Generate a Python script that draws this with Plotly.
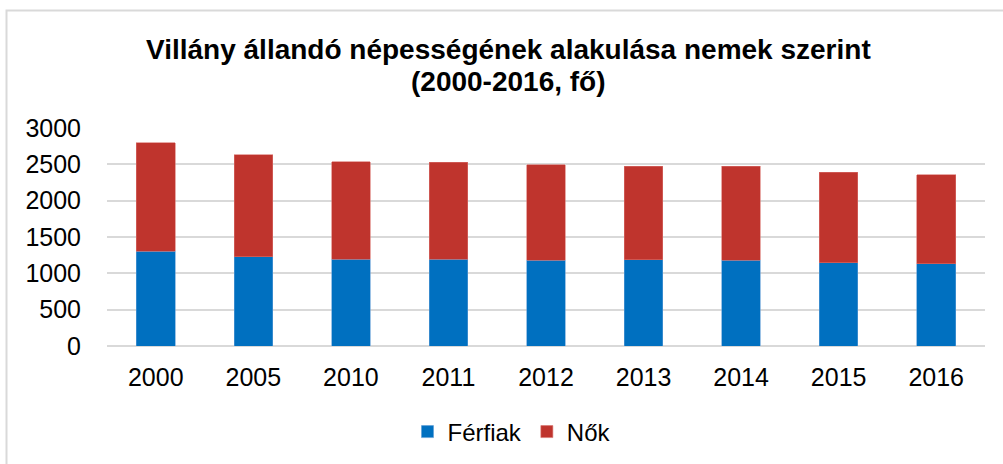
import plotly.graph_objects as go

years = ["2000", "2005", "2010", "2011", "2012", "2013", "2014", "2015", "2016"]
ferfiak = [1303, 1229, 1193, 1193, 1179, 1186, 1179, 1146, 1132]
nok = [1491, 1404, 1343, 1334, 1316, 1291, 1293, 1242, 1225]
yticks = [0, 500, 1000, 1500, 2000, 2500, 3000]

FONT = "Liberation Sans, Arial, sans-serif"

fig = go.Figure()
fig.add_trace(go.Bar(x=years, y=ferfiak, name="Férfiak",
                     marker=dict(color="#0070C0", line=dict(color="#5B9BD5", width=0.6))))
fig.add_trace(go.Bar(x=years, y=nok, name="Nők",
                     marker=dict(color="#BF342D", line=dict(color="#D9706A", width=0.6))))

L, R, T, B = 107, 18, 128, 118
W, H = 1003, 464
pw = W - L - R
ph = H - T - B

def px2x(px):
    return (px - L) / pw

def py2y(py):
    return (H - B - py) / ph

fig.update_layout(
    width=W, height=H,
    barmode="stack", bargap=0.604,
    paper_bgcolor="white", plot_bgcolor="white",
    margin=dict(l=L, r=R, t=T, b=B, autoexpand=False),
    font=dict(family=FONT, color="#000000"),
    showlegend=True,
    legend=dict(orientation="h", x=px2x(512), xanchor="center", y=py2y(432), yanchor="middle",
                font=dict(size=24, family=FONT), traceorder="normal",
                itemwidth=30),
    xaxis=dict(tickfont=dict(size=25), showgrid=False, showline=False, ticks="",
               ticklabelstandoff=14),
    yaxis=dict(range=[0, 3000], tickvals=yticks, tickfont=dict(size=25),
               showgrid=True, gridcolor="#D9D9D9", gridwidth=1.5,
               zeroline=True, zerolinecolor="#D9D9D9", zerolinewidth=1.5,
               showline=False, ticks="", ticklabelstandoff=25),
    annotations=[
        dict(text="<b>Villány állandó népességének alakulása nemek szerint</b>",
             xref="paper", yref="paper", x=px2x(508), y=py2y(49),
             xanchor="center", yanchor="middle", showarrow=False,
             font=dict(size=28, family=FONT, color="#000000")),
        dict(text="<b>(2000-2016, fő)</b>",
             xref="paper", yref="paper", x=px2x(508), y=py2y(81),
             xanchor="center", yanchor="middle", showarrow=False,
             font=dict(size=28, family=FONT, color="#000000")),
    ],
    shapes=[dict(type="rect", xref="paper", yref="paper",
                 x0=px2x(6.5), x1=px2x(1020), y0=py2y(480), y1=py2y(10.5),
                 line=dict(color="#D9D9D9", width=2), fillcolor="rgba(0,0,0,0)",
                 layer="below")],
)

fig.write_html("out.html", config={"displayModeBar": False},
               post_script="document.body.style.margin='0';document.body.style.overflow='hidden';")
